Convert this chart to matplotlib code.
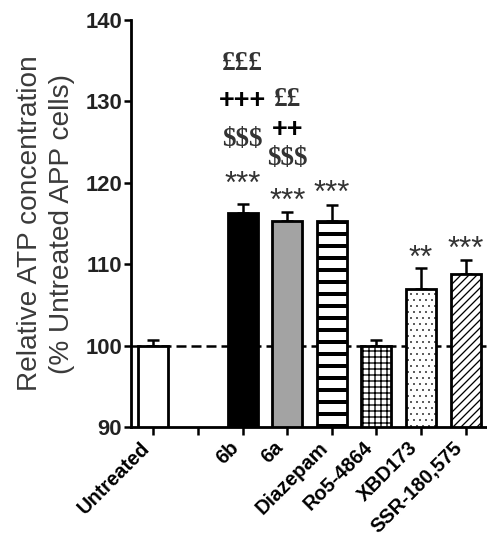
import matplotlib
matplotlib.use('Agg')
import matplotlib.pyplot as plt
import numpy as np

categories = ['Untreated', '', '6b', '6a', 'Diazepam', 'Ro5-4864', 'XBD173', 'SSR-180,575']
values = [100.0, np.nan, 116.3, 115.3, 115.3, 99.9, 106.9, 108.8]
errors = [0.7, np.nan, 1.1, 1.1, 2.0, 0.8, 2.6, 1.7]

# significance marks: (category index, text, y value)
marks_idx = [2, 2, 2, 2, 3, 3, 3, 3, 4, 6, 7]
marks_txt = ['***', '$$$', '+++', '£££', '***', '$$$', '++', '££', '***', '**', '***']
marks_y = [121.2, 125.3, 130.0, 134.7, 119.1, 123.0, 126.5, 130.2, 120.1, 112.1, 113.3]

fills = ['white', 'white', 'black', '#a3a3a3', 'white', 'white', 'white', 'white']
hatches = [None, None, None, None, '-', '++', '..', '///']

plt.rcParams['font.family'] = ['Liberation Sans', 'DejaVu Sans']
plt.rcParams['hatch.color'] = 'black'

dpi = 72
fig = plt.figure(figsize=(487 / dpi, 549 / dpi), dpi=dpi)
ax = fig.add_axes([131 / 487, 122 / 549, 357 / 487, 407 / 549])

x = np.arange(len(categories))
ax.axhline(100, color='black', lw=2.5, ls=(0, (4, 2)), zorder=1)

for i in range(len(categories)):
    if np.isnan(values[i]):
        continue
    ax.errorbar(x[i], values[i], yerr=[[0], [errors[i]]], fmt='none',
                ecolor='black', elinewidth=2.5, capsize=6, capthick=2.5, zorder=2)
    rects = ax.bar(x[i], values[i] - 90, bottom=90, width=0.67, color=fills[i],
                   edgecolor='black', linewidth=2.8, hatch=hatches[i], zorder=3)
    if hatches[i] == '-':
        lw_h = 4.0
    elif hatches[i] == '..':
        lw_h = 0.5
    else:
        lw_h = 1.3
    for r in rects:
        try:
            r.set_hatch_linewidth(lw_h)
        except AttributeError:
            pass

for i, t, yv in zip(marks_idx, marks_txt, marks_y):
    if '$' in t or '£' in t:
        ax.text(x[i], yv, t, ha='center', va='center', fontsize=27,
                fontweight='bold', family=['Liberation Serif', 'DejaVu Serif'],
                color='#333333')
    elif '+' in t:
        ax.text(x[i], yv, t, ha='center', va='center', fontsize=27,
                fontweight='bold', color='black')
    else:
        ax.text(x[i], yv - 1.5, t, ha='center', va='center', fontsize=31,
                color='#333333')

ax.set_xlim(-0.5, 7.5)
ax.set_ylim(90, 140)
ax.set_yticks([90, 100, 110, 120, 130, 140])
ax.set_xticks(x)
ax.set_xticklabels(categories, rotation=45, ha='right', va='top',
                   fontsize=20, fontweight='bold')
for lab in ax.get_yticklabels():
    lab.set_fontweight('bold')
    lab.set_fontsize(22)
    lab.set_color('#222222')

ax.tick_params(axis='x', length=8, width=2.5, pad=3)
ax.tick_params(axis='y', length=7, width=2.5, pad=2)
for s in ['top', 'right']:
    ax.spines[s].set_visible(False)
for s in ['left', 'bottom']:
    ax.spines[s].set_linewidth(2.8)

ax.set_ylabel('Relative ATP concentration\n(% Untreated APP cells)',
              fontsize=28, color='#3a3a3a', linespacing=1.3, labelpad=10)

fig.savefig('out.png', dpi=dpi)
